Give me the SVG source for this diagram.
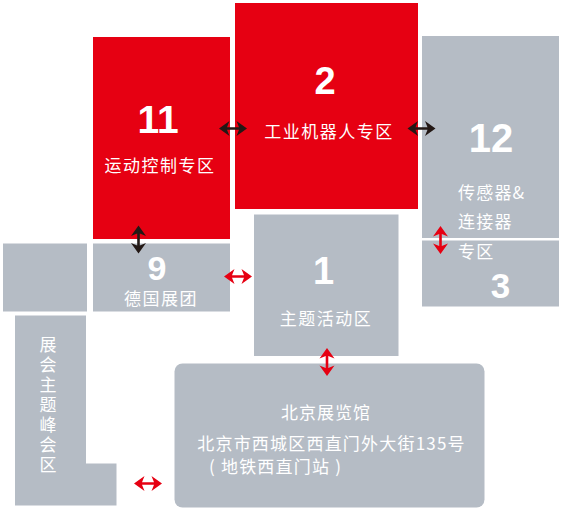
<svg xmlns="http://www.w3.org/2000/svg" width="563" height="514" viewBox="0 0 563 514">
<style>
.red{fill:#e60012}
.gray{fill:#b5bcc5}
.num{font-family:"Liberation Sans",Arial,sans-serif;font-weight:bold;fill:#ffffff;text-anchor:middle}
.lbl{font-family:"Noto Sans CJK SC","Noto Sans",sans-serif;fill:#ffffff;font-size:17px}
.mid{text-anchor:middle}
.ab{fill:#231815}
.ar{fill:#e60012}
</style>
<defs>
<path id="dbl" d="M-14,0 L-3.5,-7.5 L-6,-1.3 L6,-1.3 L3.5,-7.5 L14,0 L3.5,7.5 L6,1.3 L-6,1.3 L-3.5,7.5 Z"/>
</defs>
<rect width="563" height="514" fill="#ffffff"/>
<g id="hall11">
<rect class="red" x="93" y="37" width="137" height="202"/>
<text class="num" x="158" y="132.5" font-size="39">11</text>
<text class="lbl mid" x="160" y="172" letter-spacing="1.5">运动控制专区</text>
</g>
<g id="hall2">
<rect class="red" x="235" y="3" width="183" height="206"/>
<text class="num" x="325" y="94" font-size="38">2</text>
<text class="lbl mid" x="329" y="137.5" letter-spacing="1.5">工业机器人专区</text>
</g>
<g id="hall3">
<rect class="gray" x="422" y="240.5" width="137" height="66"/>
<text class="num" x="500.5" y="298" font-size="35">3</text>
</g>
<g id="hall12">
<rect class="gray" x="422" y="36" width="137" height="202"/>
<text class="num" x="491" y="151.5" font-size="40">12</text>
<text class="lbl" x="458" y="199" letter-spacing="1.2">传感器&amp;</text>
<text class="lbl" x="458" y="228" letter-spacing="1.2">连接器</text>
<text class="lbl" x="458" y="258" letter-spacing="1.2">专区</text>
</g>
<g id="hall9">
<rect class="gray" x="93" y="243.5" width="137" height="68"/>
<text class="num" x="157" y="280" font-size="34">9</text>
<text class="lbl mid" x="161" y="304.5" letter-spacing="1.5">德国展团</text>
</g>
<g id="blank">
<rect class="gray" x="3" y="243.5" width="84" height="68"/>
</g>
<g id="hall1">
<rect class="gray" x="254" y="214.5" width="144.5" height="141.5"/>
<text class="num" x="323.5" y="284" font-size="38">1</text>
<text class="lbl mid" x="326" y="325" letter-spacing="1.5">主题活动区</text>
</g>
<g id="summit">
<path class="gray" d="M15,315.5 H86 V463.5 H116.5 V505.5 H15 Z"/>
<text class="lbl" x="48" y="336" writing-mode="tb" letter-spacing="3">展会主题峰会区</text>
</g>
<g id="bjexpo">
<rect class="gray" x="174.5" y="363.5" width="310" height="144" rx="8"/>
<text class="lbl mid" x="326" y="418.5" font-size="18" letter-spacing="1">北京展览馆</text>
<text class="lbl mid" x="331.5" y="450" font-size="15.5" letter-spacing="1.2">北京市西城区西直门外大街135号</text>
<text class="lbl" x="209" y="473" font-size="15.5" letter-spacing="1.2">( 地铁西直门站 )</text>
</g>
<g id="connectors">
<use href="#dbl" class="ab" transform="translate(233,128.5)"/>
<use href="#dbl" class="ab" transform="translate(421.5,128.5)"/>
<use href="#dbl" class="ab" transform="translate(138.5,239.5) rotate(90)"/>
<use href="#dbl" class="ar" transform="translate(238,276.5)"/>
<use href="#dbl" class="ar" transform="translate(440.5,240) rotate(90)"/>
<use href="#dbl" class="ar" transform="translate(148,483.5)"/>
<use href="#dbl" class="ar" transform="translate(327,362) rotate(90)"/>
</g>
</svg>
